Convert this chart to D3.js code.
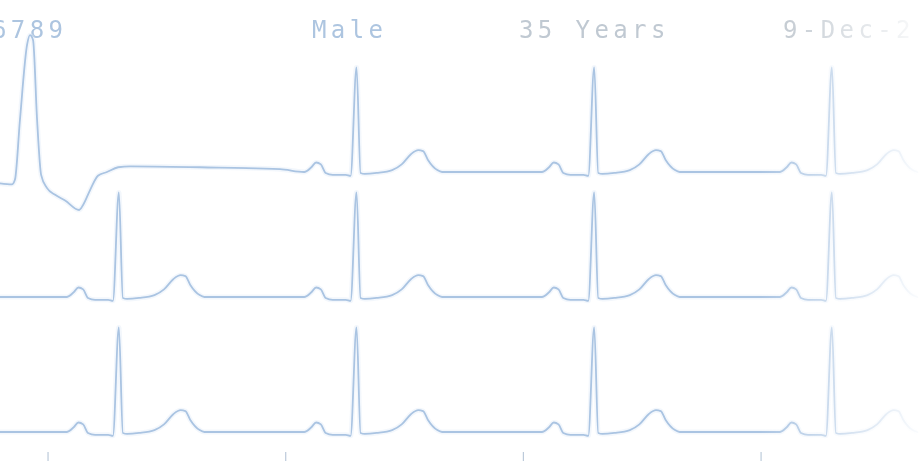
<!DOCTYPE html>
<html><head><meta charset="utf-8">
<script src="https://cdn.jsdelivr.net/npm/d3@7"></script>
<style>html,body{margin:0;padding:0;background:#fff;overflow:hidden}</style>
</head><body>
<svg id="c" width="921" height="461"></svg>
<script>
// ---------- data ----------
const headerLabels = ["6789", "Male", "35 Years", "9-Dec-2"];
const tickSeconds = [0, 1, 2, 3];
// one normal beat, time relative to R peak (s) and amplitude (mV)
const beatOffsetS = [-0.22, -0.19, -0.17, -0.15, -0.13, -0.10, -0.045, -0.025, 0, 0.017, 0.035, 0.085, 0.15, 0.19, 0.23, 0.26, 0.28, 0.30, 0.34, 0.36];
const beatMv      = [0, 0.05, 0.10, 0.08, -0.01, -0.03, -0.03, -0.04, 1.10, -0.01, -0.02, -0.01, 0.02, 0.08, 0.19, 0.23, 0.22, 0.13, 0.02, 0];
// R peak times per lead (s)
const lead1R = [1.3, 2.3, 3.3];
const lead2R = [0.3, 1.3, 2.3, 3.3];
const lead3R = [0.3, 1.3, 2.3, 3.3];
// lead I opening segment (wide ectopic beat and recovery)
const lead1LeadInS  = [-0.200, -0.149, -0.137, -0.116, -0.086, -0.074, -0.061, -0.044, -0.027, -0.002, 0.032, 0.074, 0.133, 0.149, 0.179, 0.212, 0.250, 0.297, 0.347, 0.642, 0.978];
const lead1LeadInMv = [-0.12, -0.13, -0.08, 0.55, 1.34, 1.44, 1.39, 0.55, -0.03, -0.17, -0.24, -0.30, -0.40, -0.35, -0.19, -0.04, 0.00, 0.05, 0.06, 0.05, 0.03];
const lead2LeadInS = [-0.2], lead2LeadInMv = [0];
const lead3LeadInS = [-0.2], lead3LeadInMv = [0];

// ---------- build ----------
function buildSeries(inS, inMv, rTimes) {
  const pts = inS.map((t, i) => ({t, v: inMv[i]}));
  rTimes.forEach(r => beatOffsetS.forEach((o, i) => pts.push({t: r + o, v: beatMv[i]})));
  return pts;
}
const leads = [
  buildSeries(lead1LeadInS, lead1LeadInMv, lead1R),
  buildSeries(lead2LeadInS, lead2LeadInMv, lead2R),
  buildSeries(lead3LeadInS, lead3LeadInMv, lead3R)
];

const W = 921, H = 461;
const svg = d3.select("#c");
const x = d3.scaleLinear().domain([-0.2, 3.675]).range([0, W]);
const laneBase = [172, 297, 432];
const pxPerMv = 95;
const yScales = laneBase.map(b => d3.scaleLinear().domain([0, 1]).range([b, b - pxPerMv]));

const defs = svg.append("defs");
const grad = defs.append("linearGradient").attr("id", "fade")
  .attr("gradientUnits", "userSpaceOnUse").attr("x1", 0).attr("x2", W).attr("y1", 0).attr("y2", 0);
[[0, 1], [760 / W, 1], [840 / W, 0.55], [900 / W, 0.2], [1, 0.05]].forEach(([o, a]) =>
  grad.append("stop").attr("offset", o).attr("stop-color", "#fff").attr("stop-opacity", a));
defs.append("mask").attr("id", "m").attr("maskUnits", "userSpaceOnUse")
  .attr("x", 0).attr("y", 0).attr("width", W).attr("height", H)
  .append("rect").attr("width", W).attr("height", H).attr("fill", "url(#fade)");

const g = svg.append("g").attr("mask", "url(#m)");

// header text
const headerX = [-8, 312, 519, 783];
g.selectAll("text.h").data(headerLabels).join("text").attr("class", "h")
  .attr("x", (d, i) => headerX[i]).attr("y", 38)
  .attr("font-family", "DejaVu Sans Mono, monospace").attr("font-size", 24)
  .attr("letter-spacing", "4.4px")
  .attr("fill", (d, i) => ["#adc5e0", "#adc5e0", "#c0c9d2", "#bcc4cc"][i])
  .text(d => d);

// traces
leads.forEach((pts, i) => {
  const line = d3.line().x(d => x(d.t)).y(d => yScales[i](d.v)).curve(d3.curveMonotoneX);
  g.append("path").attr("d", line(pts)).attr("fill", "none")
    .attr("stroke", "#e2ecf8").attr("stroke-width", 5).attr("stroke-opacity", 0.4)
    .attr("stroke-linejoin", "round");
  g.append("path").attr("d", line(pts)).attr("fill", "none")
    .attr("stroke", "#aac4e2").attr("stroke-width", 1.8)
    .attr("stroke-linejoin", "round").attr("stroke-linecap", "round");
});

// bottom ticks
const axis = d3.axisBottom(x).tickValues(tickSeconds).tickSize(10).tickFormat("");
const ag = g.append("g").attr("transform", `translate(0,${452})`).call(axis);
ag.select(".domain").remove();
ag.selectAll("line").attr("stroke", "#bccada").attr("stroke-width", 1.2);
</script>
</body></html>
